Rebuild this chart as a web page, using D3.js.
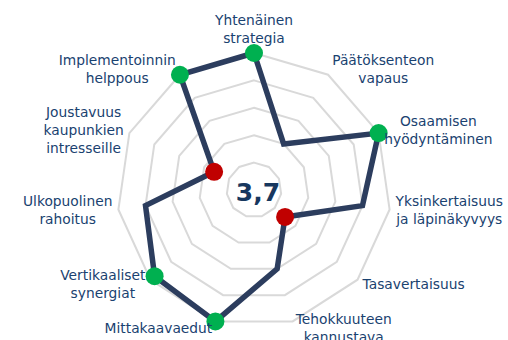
<!DOCTYPE html>
<html>
<head>
<meta charset="utf-8">
<script src="https://cdn.jsdelivr.net/npm/d3@7"></script>
<style>
  html, body { margin: 0; padding: 0; background: #fff; overflow: hidden; }
  svg { display: block; font-family: "DejaVu Sans", Verdana, sans-serif; }
</style>
</head>
<body>
<svg id="chart" width="508" height="340"></svg>
<script>
// Criteria (clockwise from the top), each label split into its lines
const categories = [
  ["Yhtenäinen", "strategia"],
  ["Päätöksenteon", "vapaus"],
  ["Osaamisen", "hyödyntäminen"],
  ["Yksinkertaisuus", "ja läpinäkyvyys"],
  ["Tasavertaisuus"],
  ["Tehokkuuteen", "kannustava"],
  ["Mittakaavaedut"],
  ["Vertikaaliset", "synergiat"],
  ["Ulkopuolinen", "rahoitus"],
  ["Joustavuus", "kaupunkien", "intresseille"],
  ["Implementoinnin", "helppous"]
];

// Scores on a 0–5 scale
const scores = [5, 2, 5, 4, 1.5, 3, 5, 4.8, 4, 1.6, 5];

// Grid ring levels
const ringLevels = [1, 2, 3, 4, 5];

// Score thresholds for highlighted points
const highThreshold = 4.5;
const lowThreshold = 2;

const svg = d3.select("#chart");
const cx = 254, cy = 190, outerR = 137;
const n = categories.length;

const r = d3.scaleLinear().domain([0, 5]).range([0, outerR]);
const angle = d3.scaleLinear().domain([0, n]).range([-Math.PI / 2, 1.5 * Math.PI]);

const pt = (i, v) => [cx + Math.cos(angle(i)) * r(v), cy + Math.sin(angle(i)) * r(v)];

const g = svg.append("g");

// Concentric rings
const ringLine = d3.line().curve(d3.curveLinearClosed);
g.selectAll("path.ring")
  .data(ringLevels)
  .join("path")
  .attr("class", "ring")
  .attr("d", lv => ringLine(d3.range(n).map(i => pt(i, lv))))
  .attr("fill", "none")
  .attr("stroke", "#D9D9D9")
  .attr("stroke-width", 2);

// Score polygon
g.append("path")
  .attr("d", ringLine(scores.map((v, i) => pt(i, v))))
  .attr("fill", "none")
  .attr("stroke", "#2C3D5E")
  .attr("stroke-width", 5.5)
  .attr("stroke-linejoin", "miter");

// Highlighted points
const marked = scores
  .map((v, i) => ({ v, i }))
  .filter(d => d.v >= highThreshold || d.v < lowThreshold);
g.selectAll("circle.mark")
  .data(marked)
  .join("circle")
  .attr("class", "mark")
  .attr("cx", d => pt(d.i, d.v)[0])
  .attr("cy", d => pt(d.i, d.v)[1])
  .attr("r", 9)
  .attr("fill", d => d.v >= highThreshold ? "#00B050" : "#C00000");

// Category labels: a centred text block set beside the end of each axis
const fs = 13.8, lh = 18.2;
categories.forEach((lines, i) => {
  const a = angle(i);
  const c = Math.cos(a), s = Math.sin(a);
  const [ex, ey] = pt(i, 5);
  const t = svg.append("text")
    .attr("text-anchor", "middle")
    .attr("font-size", fs)
    .attr("fill", "#1A4270");
  const spans = lines.map(ln => t.append("tspan").text(ln));
  const w = d3.max(spans, sp => sp.node().getComputedTextLength());
  let midX, midY;
  if (Math.abs(c) < 0.1) {
    midX = ex;
    midY = ey - (lines.length * lh) / 2 - 6;
  } else {
    const edge = ex + Math.sign(c) * (2 + 4 * Math.abs(c));
    midX = edge + Math.sign(c) * w / 2;
    midY = ey + 7 * s;
  }
  const firstBase = midY - ((lines.length - 1) * lh) / 2 + 0.35 * fs;
  spans.forEach((sp, k) => sp.attr("x", midX).attr("y", firstBase + k * lh));
});

// Mean score in the middle
const mean = d3.mean(scores);
svg.append("text")
  .attr("x", cx + 4)
  .attr("y", cy + 11)
  .attr("text-anchor", "middle")
  .attr("font-size", 25)
  .attr("font-weight", "bold")
  .attr("fill", "#17375E")
  .text(d3.format(".1f")(mean).replace(".", ","));
</script>
</body>
</html>
